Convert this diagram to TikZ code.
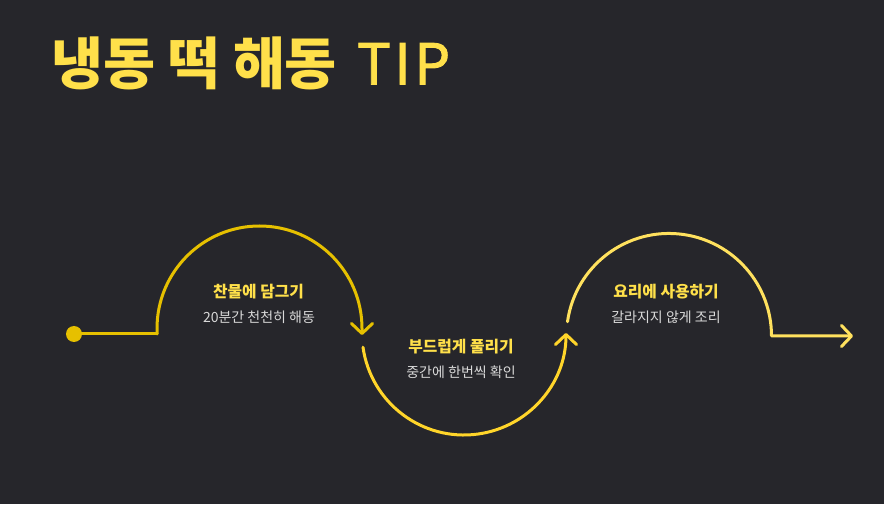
\documentclass[tikz,border=0pt]{standalone}
\usepackage{fontspec}
\setmainfont{Noto Sans CJK KR}
\newfontfamily\tipfont{Noto Sans CJK KR}[FakeBold=1.6]
\usetikzlibrary{arrows.meta}
\definecolor{bg}{HTML}{26262B}
\definecolor{cone}{HTML}{E6C000}
\definecolor{ctwo}{HTML}{FFD52A}
\definecolor{cthree}{HTML}{FFE15E}
\definecolor{ttl}{HTML}{FFE04A}
\definecolor{sub}{HTML}{D9D9D9}
\tikzset{
  flow/.style={line width=3pt, line cap=round, line join=round},
  tip/.style={-{Straight Barb[length=10pt,width=21pt,round]}},
  head/.style={font=\fontsize{15.8}{18}\selectfont\bfseries, text=ttl, anchor=base, inner sep=0pt},
  note/.style={font=\fontsize{14}{16}\selectfont, text=sub, anchor=base, inner sep=0pt},
}
\begin{document}
\begin{tikzpicture}[x=1pt,y=1pt]
\fill[bg] (0,0) rectangle (884,504);
\useasboundingbox (0,0) rectangle (884,504);
\node[anchor=base west, inner sep=0pt, text=ttl, font=\fontsize{56.5}{60}\selectfont] (title) at (51,419.5) {\textbf{냉동 떡 해동}\hspace{20pt}{\tipfont T\hspace{3.5pt}I\hspace{3.5pt}P}};
% path coordinates
\fill[cone] (74,170) circle (8);
\coordinate (dot) at (74,170);
\coordinate (s1) at (157,170);
\coordinate (e1) at (362,169);
\coordinate (s2) at (363,156.8);
\coordinate (s3) at (567.5,182.3);
\coordinate (e3) at (853,168);
\draw[flow, cone] (dot) -- (s1);
\draw[flow, cone, tip] (s1) -- ++(0,5.5) arc[start angle=180, end angle=0, radius=102.5] -- (e1);
\draw[flow, ctwo, tip] (s2) arc[start angle=188, end angle=360, radius=102];
\draw[flow, cthree, tip] (s3) arc[start angle=172, end angle=0, radius=102.5] -- (e3);
% labels
\node[head] (h1) at (258.5,206) {찬물에 담그기};
\node[note] (n1) at (259,181.5) {20분간 천천히 해동};
\node[head] (h2) at (461,151.5) {부드럽게 풀리기};
\node[note] (n2) at (461,127) {중간에 한번씩 확인};
\node[head] (h3) at (666,206) {요리에 사용하기};
\node[note] (n3) at (666,182) {갈라지지 않게 조리};
\end{tikzpicture}
\end{document}
